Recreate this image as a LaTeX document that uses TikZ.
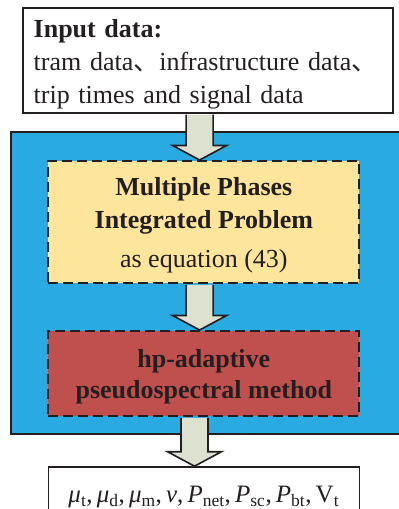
\documentclass[tikz,border=0pt]{standalone}
\usepackage{fontspec}
\setmainfont{Liberation Serif}
\newfontfamily\cjk{Noto Sans CJK SC}
\usetikzlibrary{calc}
\usetikzlibrary{positioning}

\definecolor{panel}{RGB}{41,171,226}
\definecolor{yel}{RGB}{253,229,156}
\definecolor{redbox}{RGB}{192,80,77}
\definecolor{arrfill}{RGB}{221,225,207}
\definecolor{edge}{RGB}{35,31,32}

\tikzset{
  box/.style={draw=edge, text=edge, line width=1.6pt, inner sep=0pt,
    font=\fontsize{26}{33}\selectfont},
  dbox/.style={box, line width=2pt, dash pattern=on 10pt off 5pt},
  blockarr/.style={fill=arrfill, draw=edge, line width=1.6pt, line join=miter}
}
% fat arrow: #1 x-position, #2 start anchor, #3 end anchor
\newcommand\blockarrow[3]{%
  \draw[blockarr] let \p1=(#1 |- #2), \p2=(#1 |- #3) in
    (\x1-13.5pt,\y1-0.8pt) -- (\x1-13.5pt,\y2+14.5pt) -- (\x1-27pt,\y2+14.5pt)
    -- (\x1,\y2) -- (\x1+27pt,\y2+14.5pt) -- (\x1+13.5pt,\y2+14.5pt)
    -- (\x1+13.5pt,\y1-0.8pt);
}
% italic symbol with upright index
\newcommand\sym[2]{\textit{#1}\textsubscript{#2}}
% strut that pushes a text block down in its box
\newcommand\lift[1]{\rule{0pt}{#1}}

\begin{document}
\begin{tikzpicture}[x=1pt, y=-1pt]
\useasboundingbox (0,0) rectangle (399,509);
\clip (0,0) rectangle (399,509);

% blue frame round the solver
\draw[fill=panel, draw=edge, line width=1.6pt] (11,132) rectangle (430,434);

\node[box, fill=white, minimum width=370pt, minimum height=105pt,
  text width=348pt, align=left] (inp) at (207.7,60.5)
  {\lift{26pt}\textbf{Input data:}\\
   tram data{\cjk 、}infrastructure data{\cjk 、}\\
   trip times and signal data};

\node[dbox, fill=yel, minimum width=311pt, minimum height=122pt, align=center]
  (mpp) at (203.8,222)
  {\lift{24pt}\textbf{Multiple Phases}\\ \textbf{Integrated Problem}\\[6pt] as equation (43)};

\node[dbox, fill=redbox, minimum width=311pt, minimum height=85pt, align=center]
  (hpm) at (203.8,373.5)
  {\lift{25pt}\textbf{hp-adaptive}\\[-2pt] \textbf{pseudospectral method}};

\node[box, fill=white, minimum width=311pt, minimum height=60pt,
  font=\fontsize{25}{30}\selectfont] (res) at (203.8,497)
  {\sym{μ}{t},\,\sym{μ}{d},\,\sym{μ}{m},\,\textit{v},\,\sym{P}{net},\,\sym{P}{sc},\,%
   \sym{P}{bt},\,V\textsubscript{t}};

\coordinate (ax1) at (199.6,0);
\coordinate (ax2) at (194.5,0);
\blockarrow{ax1}{inp.south}{mpp.north}
\blockarrow{ax1}{mpp.south}{hpm.north}
\blockarrow{ax2}{hpm.south}{res.north}
\end{tikzpicture}
\end{document}
